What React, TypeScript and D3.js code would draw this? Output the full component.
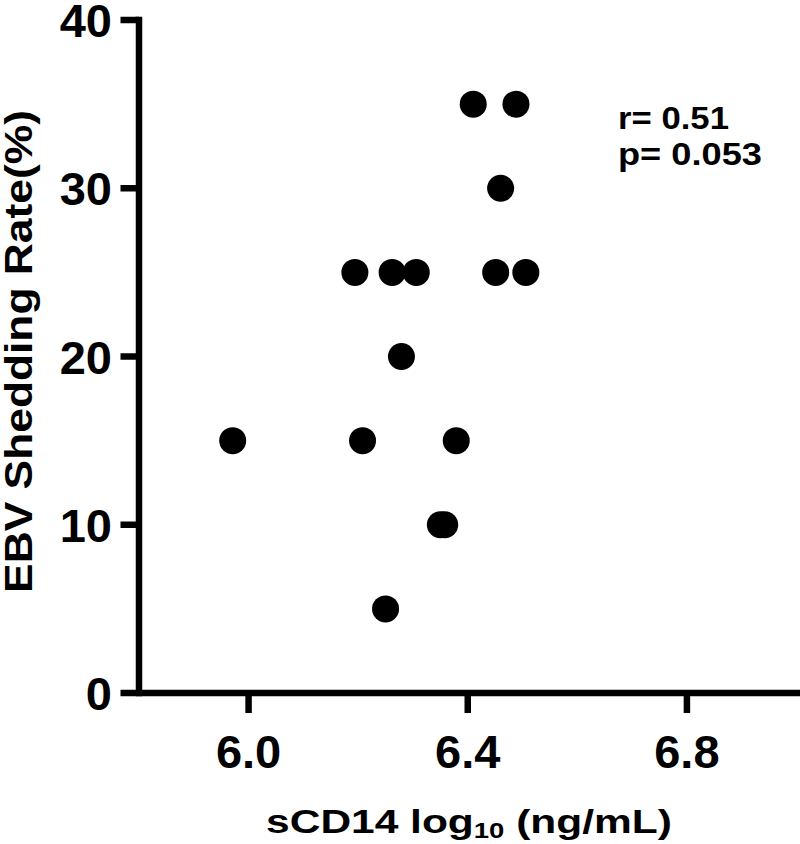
import React, { useEffect, useRef } from "react";
import * as d3 from "d3";

const sCD14 = [6.41, 6.488, 6.46, 6.194, 6.262, 6.306, 6.451, 6.506, 6.279, 5.971, 6.208, 6.379, 6.35, 6.358, 6.25];
const shedding = [35, 35, 30, 25, 25, 25, 25, 25, 20, 15, 15, 15, 10, 10, 5];
const xTicks = [6.0, 6.4, 6.8];
const yTicks = [0, 10, 20, 30, 40];
const statLines = ["r= 0.51", "p= 0.053"];

const FONT = "'Liberation Sans', Arial, Helvetica, sans-serif";

export default function App() {
  const ref = useRef<SVGSVGElement>(null);

  useEffect(() => {
    const svg = d3.select(ref.current);
    svg.selectAll("*").remove();

    const x = d3.scaleLinear().domain([5.8, 7.0]).range([139, 796.5]);
    const y = d3.scaleLinear().domain([0, 40]).range([693, 20]);
    const sw = 6.5;

    // axes lines
    svg.append("line")
      .attr("x1", x(5.8)).attr("x2", 800)
      .attr("y1", y(0)).attr("y2", y(0))
      .attr("stroke", "#000").attr("stroke-width", sw);
    svg.append("line")
      .attr("x1", x(5.8)).attr("x2", x(5.8))
      .attr("y1", y(40) - sw / 2).attr("y2", y(0) + sw / 2)
      .attr("stroke", "#000").attr("stroke-width", sw);

    // y ticks
    const yg = svg.append("g");
    yTicks.forEach((t) => {
      yg.append("line")
        .attr("x1", 120.5).attr("x2", x(5.8))
        .attr("y1", y(t)).attr("y2", y(t))
        .attr("stroke", "#000").attr("stroke-width", sw);
      yg.append("text")
        .attr("x", 112).attr("y", y(t) + 17)
        .attr("text-anchor", "end")
        .attr("font-family", FONT).attr("font-weight", "bold")
        .attr("font-size", 47)
        .text(String(t));
    });

    // x ticks
    const xg = svg.append("g");
    xTicks.forEach((t) => {
      xg.append("line")
        .attr("x1", x(t)).attr("x2", x(t))
        .attr("y1", y(0)).attr("y2", 713)
        .attr("stroke", "#000").attr("stroke-width", sw);
      xg.append("text")
        .attr("x", x(t)).attr("y", 768)
        .attr("text-anchor", "middle")
        .attr("font-family", FONT).attr("font-weight", "bold")
        .attr("font-size", 47)
        .text(t.toFixed(1));
    });

    // points
    svg.append("g")
      .selectAll("circle")
      .data(sCD14.map((v, i) => [v, shedding[i]]))
      .join("circle")
      .attr("cx", (d) => x(d[0]))
      .attr("cy", (d) => y(d[1]))
      .attr("r", 13.5)
      .attr("fill", "#000");

    const fit = (g: any, target: number) => {
      const node = g.select("text").node() as SVGTextElement;
      const w = node.getBBox().width;
      return w > 0 ? target / w : 1;
    };

    // x title
    const xt = svg.append("g");
    const xText = xt.append("text")
      .attr("text-anchor", "middle")
      .attr("font-family", FONT).attr("font-weight", "bold")
      .attr("font-size", 34);
    xText.append("tspan").text("sCD14 log");
    xText.append("tspan").attr("font-size", 22).attr("dy", 5).text("10");
    xText.append("tspan").attr("dy", -5).text(" (ng/mL)");
    const sx1 = fit(xt, 406);
    xt.attr("transform", `translate(469,832.5) scale(${sx1},1)`);

    // y title
    const yt = svg.append("g");
    yt.append("text")
      .attr("text-anchor", "middle")
      .attr("font-family", FONT).attr("font-weight", "bold")
      .attr("font-size", 39)
      .text("EBV Shedding Rate(%)");
    const sy1 = fit(yt, 483);
    yt.attr("transform", `translate(32,351.5) rotate(-90) scale(${sy1},1)`);

    // stats
    const baselines = [129, 165];
    const widths = [111, 144];
    statLines.forEach((s, i) => {
      const g = svg.append("g");
      g.append("text")
        .attr("font-family", FONT).attr("font-weight", "bold")
        .attr("font-size", 31)
        .text(s);
      const sc = fit(g, widths[i]);
      g.attr("transform", `translate(618,${baselines[i]}) scale(${sc},1)`);
    });
  }, []);

  return (
    <svg
      ref={ref}
      width={800}
      height={844}
      style={{ position: "absolute", left: 0, top: 0, display: "block", background: "#fff" }}
    />
  );
}
